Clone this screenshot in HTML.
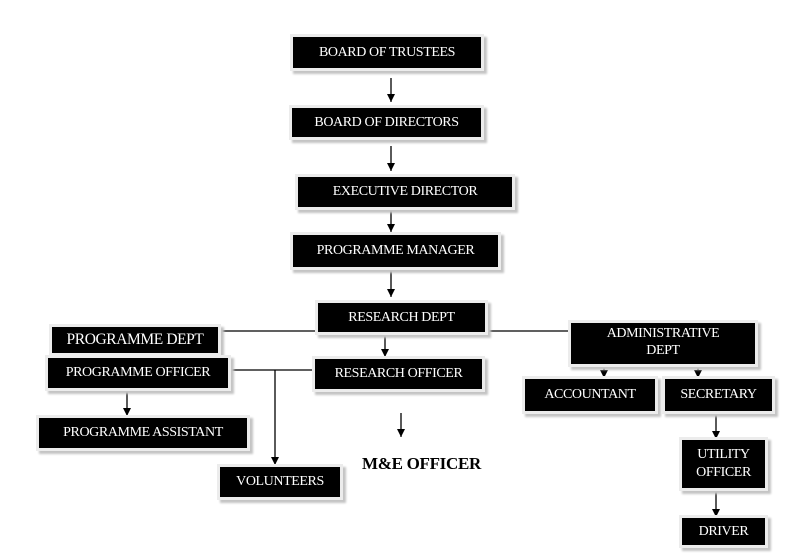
<!DOCTYPE html>
<html><head><style>
body{margin:0;width:803px;height:560px;background:#fff;position:relative;overflow:hidden;font-family:"Liberation Serif",serif}
.b{position:absolute;background:#000;color:#fff;font-size:14px;display:flex;align-items:center;justify-content:center;text-align:center;line-height:18px;box-shadow:0 0 0 3px #ececec,3px 3px 2px 3px #c4c4c4;letter-spacing:-0.4px}
svg{position:absolute;left:0;top:0}
</style></head><body>
<svg width="803" height="560">
<defs><marker id="a" markerWidth="8" markerHeight="8" refX="8" refY="4" orient="auto" markerUnits="userSpaceOnUse"><path d="M0,0 L8,4 L0,8z" fill="#000"/></marker></defs>
<g stroke="#000" stroke-width="1.3" fill="none">
<line x1="391" y1="78" x2="391" y2="102" marker-end="url(#a)"/>
<line x1="391" y1="146" x2="391" y2="171" marker-end="url(#a)"/>
<line x1="391" y1="210" x2="391" y2="232" marker-end="url(#a)"/>
<line x1="391" y1="270" x2="391" y2="297" marker-end="url(#a)"/>
<line x1="218" y1="331" x2="571" y2="331"/>
<line x1="385" y1="332" x2="385" y2="357" marker-end="url(#a)"/>
<line x1="127" y1="353" x2="127" y2="357"/>
<line x1="228" y1="370" x2="315" y2="370"/>
<line x1="275" y1="370" x2="275" y2="465" marker-end="url(#a)"/>
<line x1="127" y1="390" x2="127" y2="416" marker-end="url(#a)"/>
<line x1="401" y1="413" x2="401" y2="437" marker-end="url(#a)"/>
<line x1="604" y1="364" x2="604" y2="378" marker-end="url(#a)"/>
<line x1="698" y1="364" x2="698" y2="378" marker-end="url(#a)"/>
<line x1="716" y1="413" x2="716" y2="439" marker-end="url(#a)"/>
<line x1="716" y1="490" x2="716" y2="517" marker-end="url(#a)"/>
</g></svg>
<div class="b" style="left:293px;top:37px;width:188px;height:31px">BOARD OF TRUSTEES</div>
<div class="b" style="left:292px;top:108px;width:189px;height:29px">BOARD OF DIRECTORS</div>
<div class="b" style="left:298px;top:177px;width:214px;height:30px">EXECUTIVE DIRECTOR</div>
<div class="b" style="left:293px;top:235px;width:205px;height:32px">PROGRAMME MANAGER</div>
<div class="b" style="left:318px;top:303px;width:167px;height:29px">RESEARCH DEPT</div>
<div class="b" style="left:52px;top:327px;width:166px;height:26px;font-size:15.5px">PROGRAMME DEPT</div>
<div class="b" style="left:48px;top:358px;width:180px;height:30px">PROGRAMME OFFICER</div>
<div class="b" style="left:315px;top:359px;width:167px;height:30px">RESEARCH OFFICER</div>
<div class="b" style="left:39px;top:418px;width:208px;height:30px">PROGRAMME ASSISTANT</div>
<div class="b" style="left:220px;top:467px;width:120px;height:30px">VOLUNTEERS</div>
<div style="position:absolute;left:362px;top:454px;font-weight:bold;font-size:17px;letter-spacing:-0.3px">M&amp;E OFFICER</div>
<div class="b" style="left:571px;top:323px;width:184px;height:41px;align-items:flex-start;padding-top:2px;box-sizing:border-box;line-height:17px">ADMINISTRATIVE<br>DEPT</div>
<div class="b" style="left:525px;top:379px;width:130px;height:32px">ACCOUNTANT</div>
<div class="b" style="left:665px;top:379px;width:107px;height:32px">SECRETARY</div>
<div class="b" style="left:682px;top:440px;width:83px;height:48px">UTILITY<br>OFFICER</div>
<div class="b" style="left:682px;top:518px;width:83px;height:27px">DRIVER</div>
</body></html>
